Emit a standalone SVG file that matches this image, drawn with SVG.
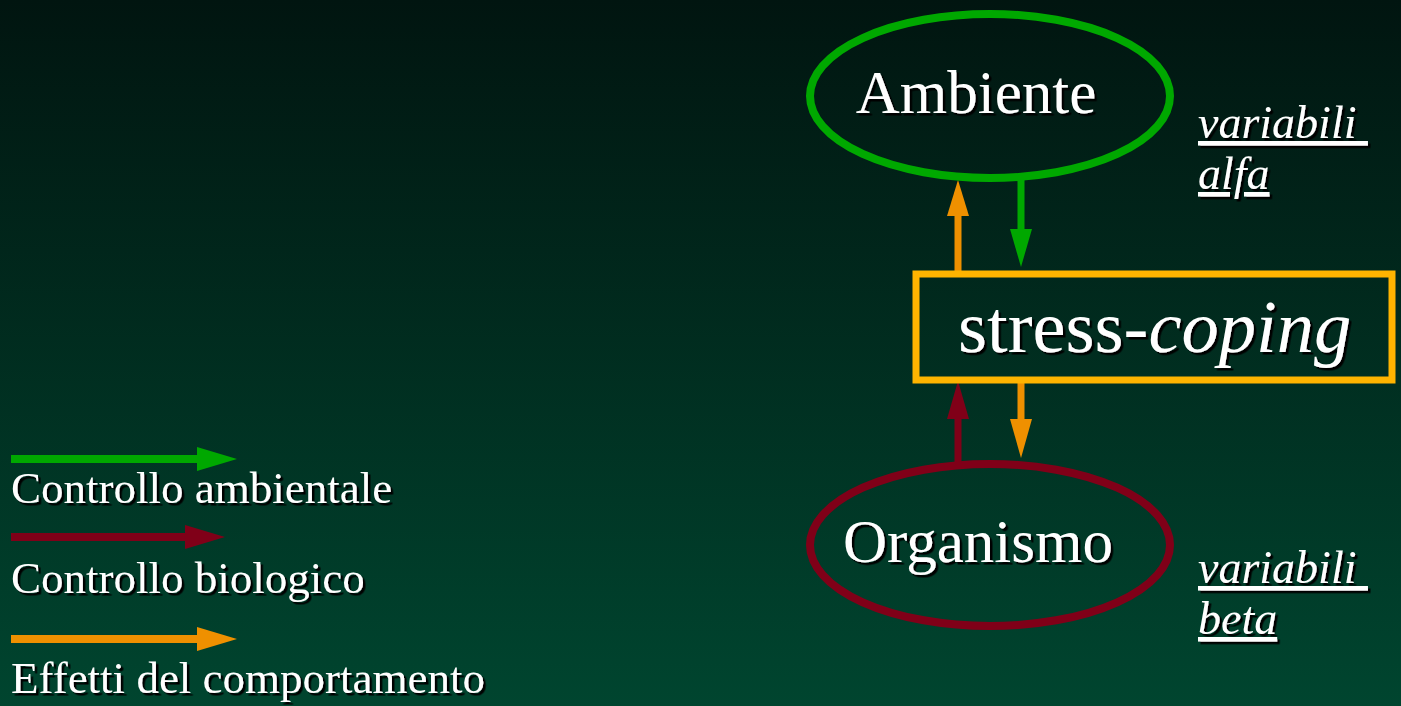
<svg xmlns="http://www.w3.org/2000/svg" width="1401" height="706" viewBox="0 0 1401 706">
<defs>
<linearGradient id="bg" x1="0" y1="0" x2="0" y2="1">
<stop offset="0" stop-color="#011510"/>
<stop offset="1" stop-color="#00452f"/>
</linearGradient>
<filter id="sh" x="-5%" y="-20%" width="115%" height="150%">
<feDropShadow dx="2.5" dy="2.5" stdDeviation="0.3" flood-color="#000" flood-opacity="1"/>
</filter>
</defs>
<style>
text{font-family:"Liberation Serif","Times New Roman",serif;fill:#fff;filter:url(#sh)}
.big{font-size:61px}
.leg{font-size:45px}
.var{font-size:46px;font-style:italic;text-decoration:underline}
.ln{fill:none;stroke-width:7}
.g{stroke:#00a800}.gf{fill:#00a800}
.r{stroke:#800018}.rf{fill:#800018}
.o{stroke:#ef9000}.of{fill:#ef9000}
</style>
<rect x="0" y="0" width="1401" height="706" fill="url(#bg)"/>

<g id="connectors">
<line class="ln o" x1="958" y1="272" x2="958" y2="214"/>
<polygon class="of" points="947,216 969,216 958,180"/>
<line class="ln g" x1="1021" y1="178" x2="1021" y2="232"/>
<polygon class="gf" points="1010,229 1032,229 1021,267"/>
<line class="ln r" x1="958" y1="463" x2="958" y2="416"/>
<polygon class="rf" points="947,419 969,419 958,381"/>
<line class="ln o" x1="1021" y1="382" x2="1021" y2="422"/>
<polygon class="of" points="1010,419 1032,419 1021,458"/>
</g>

<g id="ambiente">
<ellipse cx="990" cy="96" rx="180" ry="82" fill="none" stroke="#00a800" stroke-width="8"/>
<text class="big" x="976" y="113" text-anchor="middle">Ambiente</text>
</g>

<g id="stress-coping">
<rect x="916" y="274" width="476" height="106" fill="none" stroke="#ffb400" stroke-width="7"/>
<text x="958" y="352" style="font-size:74.5px">stress-<tspan font-style="italic">coping</tspan></text>
</g>

<g id="organismo">
<ellipse cx="990" cy="545" rx="180" ry="81" fill="none" stroke="#800018" stroke-width="8"/>
<text class="big" x="978" y="562" text-anchor="middle">Organismo</text>
</g>

<g id="var-alfa">
<text class="var" x="1198" y="138">variabili&#160;</text>
<text class="var" x="1198" y="189">alfa</text>
</g>
<g id="var-beta">
<text class="var" x="1198" y="583">variabili&#160;</text>
<text class="var" x="1198" y="634">beta</text>
</g>

<g id="legend">
<line x1="11" y1="459" x2="200" y2="459" stroke="#00a800" stroke-width="8"/>
<polygon class="gf" points="197,447 197,471 237,459"/>
<text class="leg" x="11" y="503">Controllo ambientale</text>
<line x1="11" y1="537" x2="188" y2="537" stroke="#800018" stroke-width="8"/>
<polygon class="rf" points="185,525 185,549 225,537"/>
<text class="leg" x="11" y="593">Controllo biologico</text>
<line x1="11" y1="639" x2="200" y2="639" stroke="#ef9000" stroke-width="8"/>
<polygon class="of" points="197,627 197,651 237,639"/>
<text class="leg" x="11" y="693">Effetti del comportamento</text>
</g>
</svg>
